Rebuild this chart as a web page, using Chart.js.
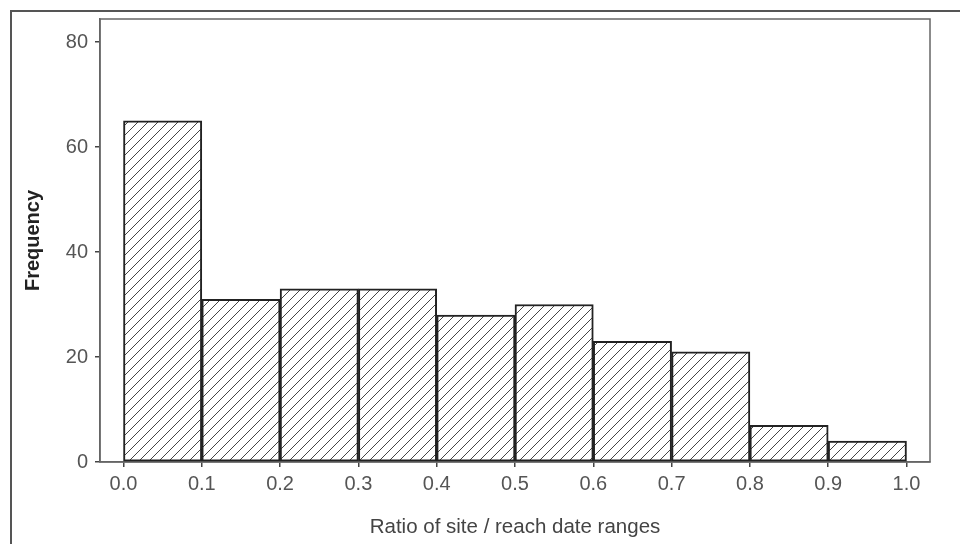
<!DOCTYPE html>
<html>
<head>
<meta charset="utf-8">
<script src="https://cdn.jsdelivr.net/npm/chart.js@4.4.1/dist/chart.umd.min.js"></script>
<style>
  body { margin: 0; background: #fff; }
  .chart-container { position: relative; width: 960px; height: 544px; }
</style>
</head>
<body>
<div class="chart-container">
  <canvas id="histChart"></canvas>
</div>
<script>
// bin centres (ratio) and counts
const binCentres = [0.05, 0.15, 0.25, 0.35, 0.45, 0.55, 0.65, 0.75, 0.85, 0.95];
const frequencies = [65, 31, 33, 33, 28, 30, 23, 21, 7, 4];
const xTickValues = [0.0, 0.1, 0.2, 0.3, 0.4, 0.5, 0.6, 0.7, 0.8, 0.9, 1.0];
const yTickValues = [0, 20, 40, 60, 80];

// diagonal hatch fill for the bars
const makeHatch = () => {
  const tile = document.createElement("canvas");
  tile.width = 10;
  tile.height = 10;
  const t = tile.getContext("2d");
  t.fillStyle = "#fff";
  t.fillRect(0, 0, 10, 10);
  t.strokeStyle = "#444";
  t.lineWidth = 1;
  t.beginPath();
  t.moveTo(0, 10); t.lineTo(10, 0);
  t.moveTo(-5, 5); t.lineTo(5, -5);
  t.moveTo(5, 15); t.lineTo(15, 5);
  t.stroke();
  return t.createPattern(tile, "repeat");
};

// page border (top/left only) and the plot frame
const framePlugin = {
  id: "frame",
  beforeDraw(chart) {
    const ctx = chart.ctx;
    ctx.save();
    ctx.fillStyle = "#fff";
    ctx.fillRect(0, 0, chart.width, chart.height);
    ctx.strokeStyle = "#555";
    ctx.lineWidth = 2;
    ctx.beginPath();
    ctx.moveTo(11, chart.height);
    ctx.lineTo(11, 11);
    ctx.lineTo(chart.width, 11);
    ctx.stroke();
    ctx.restore();
  },
  beforeDatasetsDraw(chart) {
    const { ctx, chartArea } = chart;
    ctx.save();
    ctx.strokeStyle = "#666";
    ctx.lineWidth = 1.5;
    ctx.strokeRect(chartArea.left, chartArea.top, chartArea.right - chartArea.left, chartArea.bottom - chartArea.top);
    ctx.restore();
  },
};

const ctx = document.getElementById("histChart");
const hatch = makeHatch();

new Chart(ctx, {
  type: "bar",
  data: {
    datasets: [
      {
        data: binCentres.map((c, i) => ({ x: c, y: frequencies[i] })),
        backgroundColor: hatch,
        borderColor: "#222",
        borderWidth: 2,
        borderSkipped: false,
        barPercentage: 1,
        categoryPercentage: 1,
      },
    ],
  },
  options: {
    responsive: true,
    maintainAspectRatio: false,
    animation: false,
    layout: { padding: { left: 0, right: 30, top: 17, bottom: 0 } },
    plugins: { legend: { display: false }, tooltip: { enabled: false } },
    scales: {
      x: {
        type: "linear",
        min: -0.03,
        max: 1.03,
        offset: false,
        afterBuildTicks: (scale) => {
          scale.ticks = xTickValues.map((v) => ({ value: v }));
        },
        afterFit: (scale) => {
          scale.height = 82;
        },
        grid: { offset: false, drawOnChartArea: false, drawTicks: true, tickLength: 5, tickColor: "#444", lineWidth: 1.5 },
        border: { color: "#666", width: 1.5 },
        ticks: {
          color: "#555",
          font: { family: "Liberation Sans, Arial, sans-serif", size: 20 },
          padding: 5,
          maxRotation: 0,
          callback: (v) => Number(v).toFixed(1),
        },
        title: {
          display: true,
          text: "Ratio of site / reach date ranges",
          color: "#444",
          font: { family: "Liberation Sans, Arial, sans-serif", size: 20.5 },
          padding: { top: 0, bottom: 4 },
        },
      },
      y: {
        min: 0,
        max: 84.4,
        afterBuildTicks: (scale) => {
          scale.ticks = yTickValues.map((v) => ({ value: v }));
        },
        afterFit: (scale) => {
          scale.width = 100;
        },
        grid: { drawOnChartArea: false, drawTicks: true, tickLength: 5, tickColor: "#444", lineWidth: 1.5 },
        border: { color: "#666", width: 1.5 },
        ticks: {
          color: "#555",
          font: { family: "Liberation Sans, Arial, sans-serif", size: 20 },
          padding: 7,
        },
        title: {
          display: true,
          text: "Frequency",
          color: "#222",
          font: { family: "Liberation Sans, Arial, sans-serif", size: 20, weight: "bold" },
          padding: { top: 21, bottom: 0 },
        },
      },
    },
  },
  plugins: [framePlugin],
});
</script>
</body>
</html>
